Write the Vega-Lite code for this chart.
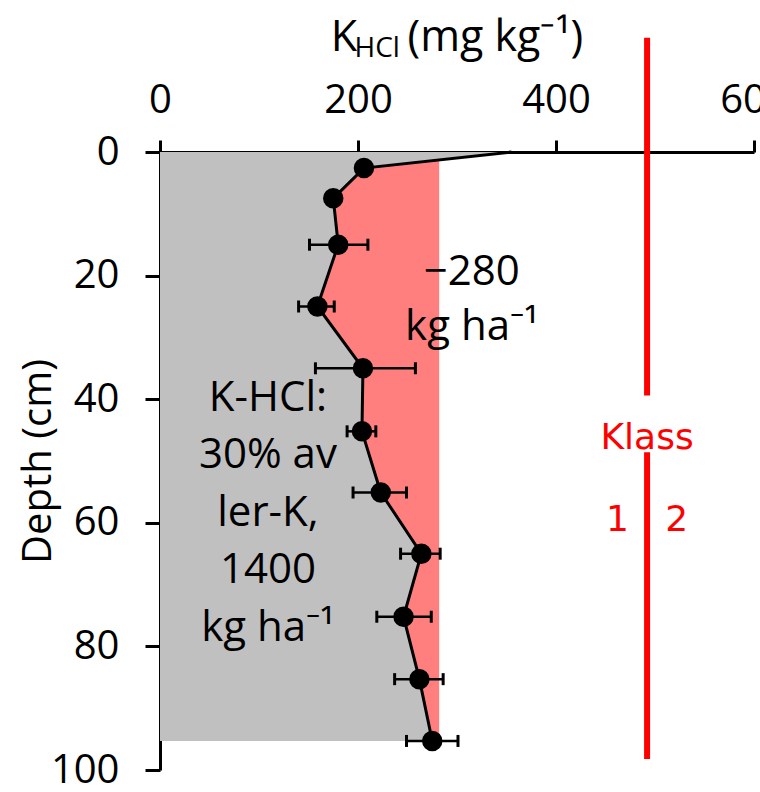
{
  "$schema": "https://vega.github.io/schema/vega-lite/v6.json",
  "autosize": {"type": "none"},
  "padding": {"left": 160, "top": 152, "right": 6, "bottom": 22},
  "width": 594,
  "height": 618,
  "config": {
    "font": "Open Sans",
    "view": {"stroke": null},
    "axis": {"grid": false, "domainColor": "black", "tickColor": "black", "labelColor": "black", "titleColor": "black", "domainWidth": 3, "tickWidth": 3, "labelFontSize": 40, "titleFontSize": 40, "titleFontWeight": "normal", "labelFont": "Open Sans", "titleFont": "Open Sans"}
  },
  "datasets": {
    "profile": [
      {"depth": 2.6, "k": 206, "lo": null, "hi": null},
      {"depth": 7.5, "k": 175, "lo": null, "hi": null},
      {"depth": 15, "k": 180, "lo": 151, "hi": 210},
      {"depth": 25, "k": 159, "lo": 140, "hi": 176},
      {"depth": 35, "k": 205, "lo": 157, "hi": 258},
      {"depth": 45.2, "k": 204, "lo": 189, "hi": 218},
      {"depth": 55.1, "k": 223, "lo": 195, "hi": 249},
      {"depth": 65, "k": 264, "lo": 243, "hi": 283},
      {"depth": 75.2, "k": 246, "lo": 219, "hi": 274},
      {"depth": 85.3, "k": 262, "lo": 237, "hi": 286},
      {"depth": 95.3, "k": 275, "lo": 249, "hi": 301}
    ],
    "outline": [
      {"depth": 0, "k": 355},
      {"depth": 2.6, "k": 206},
      {"depth": 7.5, "k": 175},
      {"depth": 15, "k": 180},
      {"depth": 25, "k": 159},
      {"depth": 35, "k": 205},
      {"depth": 45.2, "k": 204},
      {"depth": 55.1, "k": 223},
      {"depth": 65, "k": 264},
      {"depth": 75.2, "k": 246},
      {"depth": 85.3, "k": 262},
      {"depth": 95.3, "k": 275}
    ],
    "deficit": [
      {"depth": 1.3, "k": 282},
      {"depth": 2.6, "k": 206},
      {"depth": 7.5, "k": 175},
      {"depth": 15, "k": 180},
      {"depth": 25, "k": 159},
      {"depth": 35, "k": 205},
      {"depth": 45.2, "k": 204},
      {"depth": 55.1, "k": 223},
      {"depth": 65, "k": 264},
      {"depth": 75.2, "k": 246},
      {"depth": 85.3, "k": 262},
      {"depth": 95.3, "k": 275}
    ],
    "klass": [
      {"from": -18.5, "to": 39.4},
      {"from": 48.6, "to": 98.2}
    ],
    "one": [{"n": 1}]
  },
  "layer": [
    {
      "data": {"name": "deficit"},
      "mark": {"type": "area", "orient": "horizontal", "color": "#FF7F7F", "opacity": 1},
      "encoding": {
        "y": {"field": "depth", "type": "quantitative", "scale": {"domain": [0, 100], "reverse": true, "nice": false, "zero": false},
          "axis": {"orient": "left", "values": [0, 20, 40, 60, 80, 100], "tickSize": 15, "labelPadding": 26, "title": "Depth (cm)", "titlePadding": -8}},
        "x": {"field": "k", "type": "quantitative", "scale": {"domain": [0, 600], "nice": false, "zero": false},
          "axis": {"orient": "top", "values": [0, 200, 400, 600], "tickSize": 12, "labelPadding": 20, "title": null, "labelFlush": false}},
        "x2": {"datum": 282}
      }
    },
    {
      "data": {"name": "outline"},
      "mark": {"type": "area", "orient": "horizontal", "color": "#C0C0C0", "opacity": 1},
      "encoding": {
        "y": {"field": "depth", "type": "quantitative"},
        "x": {"field": "k", "type": "quantitative"},
        "x2": {"datum": 0}
      }
    },
    {
      "data": {"name": "klass"},
      "mark": {"type": "rule", "color": "#FF0000", "strokeWidth": 6},
      "encoding": {"x": {"datum": 492, "type": "quantitative"}, "y": {"field": "from", "type": "quantitative"}, "y2": {"field": "to"}}
    },
    {
      "data": {"name": "one"},
      "mark": {"type": "text", "text": "Klass", "color": "#FF0000", "font": "DejaVu Sans", "fontSize": 36, "align": "center", "baseline": "middle"},
      "encoding": {"x": {"datum": 492, "type": "quantitative"}, "y": {"datum": 46.2, "type": "quantitative"}}
    },
    {
      "data": {"name": "one"},
      "mark": {"type": "text", "text": "1", "color": "#FF0000", "font": "DejaVu Sans", "fontSize": 36, "align": "center", "baseline": "middle"},
      "encoding": {"x": {"datum": 462, "type": "quantitative"}, "y": {"datum": 59.6, "type": "quantitative"}}
    },
    {
      "data": {"name": "one"},
      "mark": {"type": "text", "text": "2", "color": "#FF0000", "font": "DejaVu Sans", "fontSize": 36, "align": "center", "baseline": "middle"},
      "encoding": {"x": {"datum": 522, "type": "quantitative"}, "y": {"datum": 59.6, "type": "quantitative"}}
    },
    {
      "data": {"name": "one"},
      "mark": {"type": "text", "text": ["−280", "kg ha⁻¹"], "lineHeight": 55, "color": "black", "fontSize": 42, "align": "center", "baseline": "middle"},
      "encoding": {"x": {"datum": 315, "type": "quantitative"}, "y": {"datum": 19.4, "type": "quantitative"}}
    },
    {
      "data": {"name": "one"},
      "mark": {"type": "text", "text": ["K-HCl:", "30% av", "ler-K,", "1400", "kg ha⁻¹"], "lineHeight": 57.5, "color": "black", "fontSize": 42, "align": "center", "baseline": "middle"},
      "encoding": {"x": {"datum": 109, "type": "quantitative"}, "y": {"datum": 39.8, "type": "quantitative"}}
    },
    {
      "data": {"name": "one"},
      "mark": {"type": "text", "text": "K", "color": "black", "fontSize": 43, "align": "left", "baseline": "alphabetic"},
      "encoding": {"x": {"datum": 172.5, "type": "quantitative"}, "y": {"datum": -16.3, "type": "quantitative"}}
    },
    {
      "data": {"name": "one"},
      "mark": {"type": "text", "text": "HCl", "color": "black", "fontSize": 28, "align": "left", "baseline": "alphabetic"},
      "encoding": {"x": {"datum": 196.5, "type": "quantitative"}, "y": {"datum": -15.3, "type": "quantitative"}}
    },
    {
      "data": {"name": "one"},
      "mark": {"type": "text", "text": "(mg kg⁻¹)", "color": "black", "fontSize": 43, "align": "left", "baseline": "alphabetic"},
      "encoding": {"x": {"datum": 250, "type": "quantitative"}, "y": {"datum": -16.3, "type": "quantitative"}}
    },
    {
      "data": {"name": "outline"},
      "mark": {"type": "line", "color": "black", "strokeWidth": 3},
      "encoding": {
        "y": {"field": "depth", "type": "quantitative"},
        "x": {"field": "k", "type": "quantitative"},
        "order": {"field": "depth", "type": "quantitative"}
      }
    },
    {
      "data": {"name": "profile"},
      "transform": [{"filter": "datum.lo != null"}],
      "mark": {"type": "rule", "color": "black", "strokeWidth": 2.5},
      "encoding": {"y": {"field": "depth", "type": "quantitative"}, "x": {"field": "lo", "type": "quantitative"}, "x2": {"field": "hi"}}
    },
    {
      "data": {"name": "profile"},
      "transform": [{"filter": "datum.lo != null"}],
      "mark": {"type": "tick", "orient": "vertical", "color": "black", "thickness": 3, "size": 12, "opacity": 1},
      "encoding": {"y": {"field": "depth", "type": "quantitative"}, "x": {"field": "lo", "type": "quantitative"}}
    },
    {
      "data": {"name": "profile"},
      "transform": [{"filter": "datum.lo != null"}],
      "mark": {"type": "tick", "orient": "vertical", "color": "black", "thickness": 3, "size": 12, "opacity": 1},
      "encoding": {"y": {"field": "depth", "type": "quantitative"}, "x": {"field": "hi", "type": "quantitative"}}
    },
    {
      "data": {"name": "profile"},
      "mark": {"type": "point", "shape": "circle", "filled": true, "color": "black", "size": 420, "opacity": 1},
      "encoding": {"y": {"field": "depth", "type": "quantitative"}, "x": {"field": "k", "type": "quantitative"}}
    }
  ]
}
